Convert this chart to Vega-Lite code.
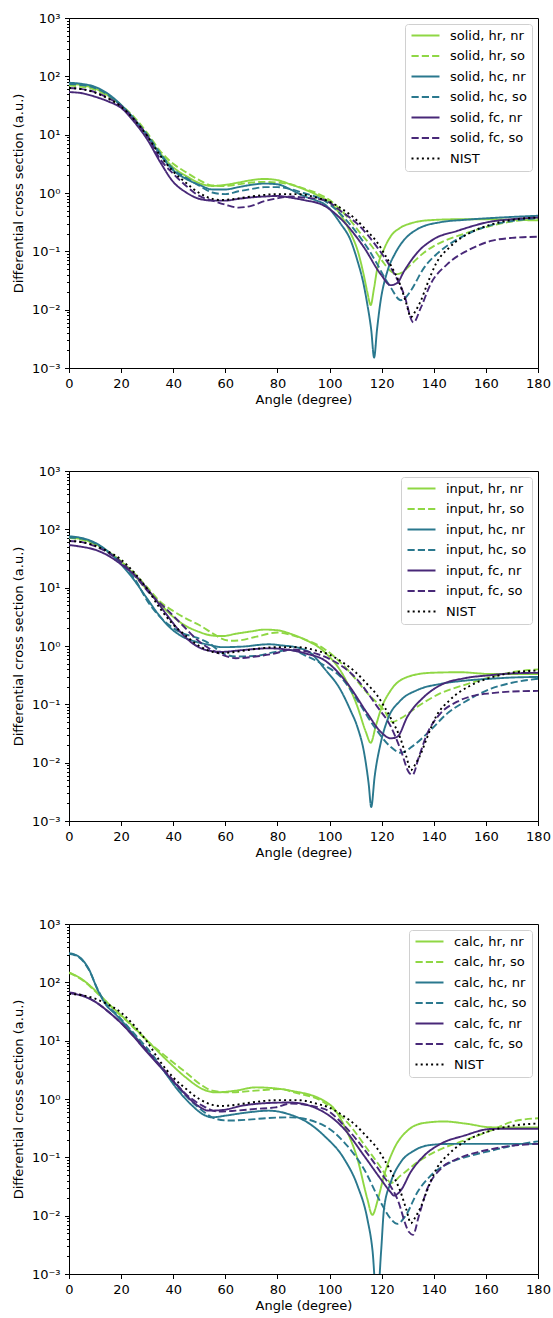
{
"$schema": "https://vega.github.io/schema/vega-lite/v6.json",
"padding": {"left": 11, "top": 11, "right": 14, "bottom": 5},
"spacing": 57,
"config": {
 "font": "DejaVu Sans",
 "view": {"stroke": "#000000", "strokeWidth": 1},
 "axis": {"grid": false, "domainColor": "#000000", "tickColor": "#000000", "labelColor": "#000000", "titleColor": "#000000", "labelFontSize": 13, "titleFontSize": 13, "titleFontWeight": "normal", "tickSize": 4.5, "labelPadding": 4.5, "domainWidth": 1, "tickWidth": 1, "labelFlush": false, "labelOverlap": false},
 "legend": {"orient": "top-right", "offset": 6, "symbolType": "M-1,0H4.6", "symbolSize": 100, "symbolStrokeWidth": 1.9, "labelFontSize": 13, "labelColor": "#000000", "strokeColor": "#d0d0d0", "fillColor": "rgba(255,255,255,0.8)", "padding": 5, "cornerRadius": 3, "rowPadding": 6.5, "labelOffset": 27}
},
"datasets": {
"solid": [
{"series":"solid, hr, nr","angle":0,"dcs":74.1},{"series":"solid, hr, nr","angle":5,"dcs":70.8},{"series":"solid, hr, nr","angle":10,"dcs":61.7},{"series":"solid, hr, nr","angle":15,"dcs":46.8},{"series":"solid, hr, nr","angle":20,"dcs":31.6},{"series":"solid, hr, nr","angle":25,"dcs":18.2},{"series":"solid, hr, nr","angle":30,"dcs":9.55},{"series":"solid, hr, nr","angle":35,"dcs":4.79},{"series":"solid, hr, nr","angle":40,"dcs":2.75},{"series":"solid, hr, nr","angle":45,"dcs":1.95},{"series":"solid, hr, nr","angle":50,"dcs":1.48},{"series":"solid, hr, nr","angle":55,"dcs":1.32},{"series":"solid, hr, nr","angle":60,"dcs":1.38},{"series":"solid, hr, nr","angle":65,"dcs":1.51},{"series":"solid, hr, nr","angle":70,"dcs":1.66},{"series":"solid, hr, nr","angle":75,"dcs":1.74},{"series":"solid, hr, nr","angle":80,"dcs":1.66},{"series":"solid, hr, nr","angle":85,"dcs":1.41},{"series":"solid, hr, nr","angle":90,"dcs":1.17},{"series":"solid, hr, nr","angle":95,"dcs":0.933},{"series":"solid, hr, nr","angle":100,"dcs":0.692},{"series":"solid, hr, nr","angle":104,"dcs":0.437},{"series":"solid, hr, nr","angle":108,"dcs":0.209},{"series":"solid, hr, nr","angle":111,"dcs":0.0955},{"series":"solid, hr, nr","angle":113,"dcs":0.0417},{"series":"solid, hr, nr","angle":114.5,"dcs":0.02},{"series":"solid, hr, nr","angle":115.8,"dcs":0.012},{"series":"solid, hr, nr","angle":117,"dcs":0.0224},{"series":"solid, hr, nr","angle":118.3,"dcs":0.0501},{"series":"solid, hr, nr","angle":121,"dcs":0.112},{"series":"solid, hr, nr","angle":123.5,"dcs":0.182},{"series":"solid, hr, nr","angle":127,"dcs":0.251},{"series":"solid, hr, nr","angle":132,"dcs":0.309},{"series":"solid, hr, nr","angle":139,"dcs":0.343},{"series":"solid, hr, nr","angle":150,"dcs":0.355},{"series":"solid, hr, nr","angle":162,"dcs":0.355},{"series":"solid, hr, nr","angle":170,"dcs":0.347},{"series":"solid, hr, nr","angle":180,"dcs":0.339},
{"series":"solid, hr, so","angle":0,"dcs":69.2},{"series":"solid, hr, so","angle":5,"dcs":66.1},{"series":"solid, hr, so","angle":10,"dcs":58.9},{"series":"solid, hr, so","angle":15,"dcs":45.7},{"series":"solid, hr, so","angle":20,"dcs":32.4},{"series":"solid, hr, so","angle":25,"dcs":20.0},{"series":"solid, hr, so","angle":30,"dcs":10.7},{"series":"solid, hr, so","angle":35,"dcs":5.25},{"series":"solid, hr, so","angle":40,"dcs":3.16},{"series":"solid, hr, so","angle":45,"dcs":2.26},{"series":"solid, hr, so","angle":50,"dcs":1.66},{"series":"solid, hr, so","angle":55,"dcs":1.35},{"series":"solid, hr, so","angle":60,"dcs":1.32},{"series":"solid, hr, so","angle":65,"dcs":1.41},{"series":"solid, hr, so","angle":70,"dcs":1.51},{"series":"solid, hr, so","angle":75,"dcs":1.55},{"series":"solid, hr, so","angle":80,"dcs":1.51},{"series":"solid, hr, so","angle":85,"dcs":1.41},{"series":"solid, hr, so","angle":90,"dcs":1.2},{"series":"solid, hr, so","angle":95,"dcs":1.0},{"series":"solid, hr, so","angle":100,"dcs":0.759},{"series":"solid, hr, so","angle":104,"dcs":0.525},{"series":"solid, hr, so","angle":108,"dcs":0.339},{"series":"solid, hr, so","angle":112,"dcs":0.2},{"series":"solid, hr, so","angle":116,"dcs":0.126},{"series":"solid, hr, so","angle":120,"dcs":0.0708},{"series":"solid, hr, so","angle":123,"dcs":0.0479},{"series":"solid, hr, so","angle":126,"dcs":0.0407},{"series":"solid, hr, so","angle":128,"dcs":0.0437},{"series":"solid, hr, so","angle":130,"dcs":0.0525},{"series":"solid, hr, so","angle":133,"dcs":0.0708},{"series":"solid, hr, so","angle":136.3,"dcs":0.0955},{"series":"solid, hr, so","angle":140,"dcs":0.123},{"series":"solid, hr, so","angle":144,"dcs":0.151},{"series":"solid, hr, so","angle":151.6,"dcs":0.2},{"series":"solid, hr, so","angle":162,"dcs":0.275},{"series":"solid, hr, so","angle":170,"dcs":0.324},{"series":"solid, hr, so","angle":180,"dcs":0.363},
{"series":"solid, hc, nr","angle":0,"dcs":77.6},{"series":"solid, hc, nr","angle":5,"dcs":74.1},{"series":"solid, hc, nr","angle":10,"dcs":66.1},{"series":"solid, hc, nr","angle":15,"dcs":50.1},{"series":"solid, hc, nr","angle":20,"dcs":32.4},{"series":"solid, hc, nr","angle":25,"dcs":18.6},{"series":"solid, hc, nr","angle":30,"dcs":9.55},{"series":"solid, hc, nr","angle":35,"dcs":4.57},{"series":"solid, hc, nr","angle":40,"dcs":2.45},{"series":"solid, hc, nr","angle":45,"dcs":1.74},{"series":"solid, hc, nr","angle":50,"dcs":1.38},{"series":"solid, hc, nr","angle":55,"dcs":1.15},{"series":"solid, hc, nr","angle":60,"dcs":1.15},{"series":"solid, hc, nr","angle":65,"dcs":1.26},{"series":"solid, hc, nr","angle":70,"dcs":1.38},{"series":"solid, hc, nr","angle":75,"dcs":1.45},{"series":"solid, hc, nr","angle":80,"dcs":1.41},{"series":"solid, hc, nr","angle":85,"dcs":1.15},{"series":"solid, hc, nr","angle":90,"dcs":0.891},{"series":"solid, hc, nr","angle":95,"dcs":0.741},{"series":"solid, hc, nr","angle":98,"dcs":0.646},{"series":"solid, hc, nr","angle":104.3,"dcs":0.295},{"series":"solid, hc, nr","angle":108,"dcs":0.158},{"series":"solid, hc, nr","angle":110.7,"dcs":0.0692},{"series":"solid, hc, nr","angle":113,"dcs":0.0282},{"series":"solid, hc, nr","angle":114.5,"dcs":0.0123},{"series":"solid, hc, nr","angle":116,"dcs":0.00447},{"series":"solid, hc, nr","angle":117.1,"dcs":0.00151},{"series":"solid, hc, nr","angle":118.2,"dcs":0.00447},{"series":"solid, hc, nr","angle":119.4,"dcs":0.0123},{"series":"solid, hc, nr","angle":122.2,"dcs":0.0457},{"series":"solid, hc, nr","angle":125,"dcs":0.0891},{"series":"solid, hc, nr","angle":127.3,"dcs":0.132},{"series":"solid, hc, nr","angle":133.7,"dcs":0.24},{"series":"solid, hc, nr","angle":142.6,"dcs":0.316},{"series":"solid, hc, nr","angle":152,"dcs":0.347},{"series":"solid, hc, nr","angle":162,"dcs":0.372},{"series":"solid, hc, nr","angle":170,"dcs":0.389},{"series":"solid, hc, nr","angle":180,"dcs":0.407},
{"series":"solid, hc, so","angle":0,"dcs":74.1},{"series":"solid, hc, so","angle":5,"dcs":70.8},{"series":"solid, hc, so","angle":10,"dcs":63.1},{"series":"solid, hc, so","angle":15,"dcs":47.9},{"series":"solid, hc, so","angle":20,"dcs":31.6},{"series":"solid, hc, so","angle":25,"dcs":18.6},{"series":"solid, hc, so","angle":30,"dcs":10.0},{"series":"solid, hc, so","angle":35,"dcs":4.79},{"series":"solid, hc, so","angle":40,"dcs":2.57},{"series":"solid, hc, so","angle":45,"dcs":1.82},{"series":"solid, hc, so","angle":50,"dcs":1.33},{"series":"solid, hc, so","angle":55,"dcs":1.02},{"series":"solid, hc, so","angle":60,"dcs":0.955},{"series":"solid, hc, so","angle":65,"dcs":1.07},{"series":"solid, hc, so","angle":70,"dcs":1.17},{"series":"solid, hc, so","angle":75,"dcs":1.26},{"series":"solid, hc, so","angle":80,"dcs":1.26},{"series":"solid, hc, so","angle":85,"dcs":1.17},{"series":"solid, hc, so","angle":90,"dcs":1.0},{"series":"solid, hc, so","angle":98,"dcs":0.741},{"series":"solid, hc, so","angle":104,"dcs":0.447},{"series":"solid, hc, so","angle":110.7,"dcs":0.2},{"series":"solid, hc, so","angle":115,"dcs":0.107},{"series":"solid, hc, so","angle":118.3,"dcs":0.0603},{"series":"solid, hc, so","angle":121,"dcs":0.0363},{"series":"solid, hc, so","angle":123.5,"dcs":0.024},{"series":"solid, hc, so","angle":127.3,"dcs":0.0145},{"series":"solid, hc, so","angle":129,"dcs":0.0158},{"series":"solid, hc, so","angle":131.1,"dcs":0.0209},{"series":"solid, hc, so","angle":136.3,"dcs":0.0525},{"series":"solid, hc, so","angle":142.6,"dcs":0.102},{"series":"solid, hc, so","angle":151.6,"dcs":0.186},{"series":"solid, hc, so","angle":162,"dcs":0.282},{"series":"solid, hc, so","angle":170,"dcs":0.331},{"series":"solid, hc, so","angle":180,"dcs":0.372},
{"series":"solid, fc, nr","angle":0,"dcs":53.7},{"series":"solid, fc, nr","angle":5,"dcs":51.3},{"series":"solid, fc, nr","angle":10,"dcs":44.7},{"series":"solid, fc, nr","angle":15,"dcs":37.2},{"series":"solid, fc, nr","angle":20,"dcs":28.8},{"series":"solid, fc, nr","angle":25,"dcs":16.6},{"series":"solid, fc, nr","angle":30,"dcs":8.32},{"series":"solid, fc, nr","angle":35,"dcs":3.39},{"series":"solid, fc, nr","angle":40,"dcs":1.55},{"series":"solid, fc, nr","angle":45,"dcs":1.02},{"series":"solid, fc, nr","angle":50,"dcs":0.794},{"series":"solid, fc, nr","angle":55,"dcs":0.741},{"series":"solid, fc, nr","angle":60,"dcs":0.741},{"series":"solid, fc, nr","angle":65,"dcs":0.794},{"series":"solid, fc, nr","angle":70,"dcs":0.841},{"series":"solid, fc, nr","angle":75,"dcs":0.871},{"series":"solid, fc, nr","angle":80,"dcs":0.891},{"series":"solid, fc, nr","angle":85,"dcs":0.832},{"series":"solid, fc, nr","angle":90,"dcs":0.759},{"series":"solid, fc, nr","angle":98,"dcs":0.603},{"series":"solid, fc, nr","angle":105.6,"dcs":0.316},{"series":"solid, fc, nr","angle":113.2,"dcs":0.117},{"series":"solid, fc, nr","angle":119.6,"dcs":0.0407},{"series":"solid, fc, nr","angle":123.5,"dcs":0.0263},{"series":"solid, fc, nr","angle":126,"dcs":0.0288},{"series":"solid, fc, nr","angle":128.6,"dcs":0.0457},{"series":"solid, fc, nr","angle":133.7,"dcs":0.0955},{"series":"solid, fc, nr","angle":140,"dcs":0.162},{"series":"solid, fc, nr","angle":149,"dcs":0.224},{"series":"solid, fc, nr","angle":162,"dcs":0.324},{"series":"solid, fc, nr","angle":170,"dcs":0.355},{"series":"solid, fc, nr","angle":180,"dcs":0.38},
{"series":"solid, fc, so","angle":0,"dcs":63.1},{"series":"solid, fc, so","angle":5,"dcs":60.3},{"series":"solid, fc, so","angle":10,"dcs":53.7},{"series":"solid, fc, so","angle":15,"dcs":42.7},{"series":"solid, fc, so","angle":20,"dcs":30.9},{"series":"solid, fc, so","angle":25,"dcs":18.2},{"series":"solid, fc, so","angle":30,"dcs":9.55},{"series":"solid, fc, so","angle":35,"dcs":3.8},{"series":"solid, fc, so","angle":40,"dcs":2.14},{"series":"solid, fc, so","angle":45,"dcs":1.32},{"series":"solid, fc, so","angle":50,"dcs":0.891},{"series":"solid, fc, so","angle":55,"dcs":0.741},{"series":"solid, fc, so","angle":60,"dcs":0.631},{"series":"solid, fc, so","angle":65,"dcs":0.562},{"series":"solid, fc, so","angle":70,"dcs":0.603},{"series":"solid, fc, so","angle":75,"dcs":0.724},{"series":"solid, fc, so","angle":80,"dcs":0.813},{"series":"solid, fc, so","angle":85,"dcs":0.871},{"series":"solid, fc, so","angle":90,"dcs":0.832},{"series":"solid, fc, so","angle":98,"dcs":0.759},{"series":"solid, fc, so","angle":104,"dcs":0.501},{"series":"solid, fc, so","angle":110.7,"dcs":0.295},{"series":"solid, fc, so","angle":118.3,"dcs":0.117},{"series":"solid, fc, so","angle":123.5,"dcs":0.0525},{"series":"solid, fc, so","angle":128.6,"dcs":0.0182},{"series":"solid, fc, so","angle":132.2,"dcs":0.00603},{"series":"solid, fc, so","angle":135,"dcs":0.0107},{"series":"solid, fc, so","angle":138.8,"dcs":0.0275},{"series":"solid, fc, so","angle":145.2,"dcs":0.0603},{"series":"solid, fc, so","angle":154.2,"dcs":0.11},{"series":"solid, fc, so","angle":162,"dcs":0.151},{"series":"solid, fc, so","angle":170,"dcs":0.17},{"series":"solid, fc, so","angle":180,"dcs":0.178},
{"series":"NIST","angle":0,"dcs":63.1},{"series":"NIST","angle":5,"dcs":60.3},{"series":"NIST","angle":10,"dcs":52.5},{"series":"NIST","angle":15,"dcs":41.7},{"series":"NIST","angle":20,"dcs":30.2},{"series":"NIST","angle":25,"dcs":18.2},{"series":"NIST","angle":30,"dcs":9.55},{"series":"NIST","angle":35,"dcs":4.37},{"series":"NIST","angle":40,"dcs":2.34},{"series":"NIST","angle":45,"dcs":1.48},{"series":"NIST","angle":50,"dcs":1.0},{"series":"NIST","angle":55,"dcs":0.794},{"series":"NIST","angle":58,"dcs":0.759},{"series":"NIST","angle":62,"dcs":0.776},{"series":"NIST","angle":70,"dcs":0.871},{"series":"NIST","angle":80,"dcs":0.955},{"series":"NIST","angle":88,"dcs":0.955},{"series":"NIST","angle":95,"dcs":0.832},{"series":"NIST","angle":100,"dcs":0.708},{"series":"NIST","angle":105,"dcs":0.525},{"series":"NIST","angle":110,"dcs":0.355},{"series":"NIST","angle":115,"dcs":0.209},{"series":"NIST","angle":118,"dcs":0.148},{"series":"NIST","angle":121,"dcs":0.0912},{"series":"NIST","angle":124,"dcs":0.0525},{"series":"NIST","angle":127,"dcs":0.0275},{"series":"NIST","angle":129.5,"dcs":0.0126},{"series":"NIST","angle":131.2,"dcs":0.00741},{"series":"NIST","angle":133,"dcs":0.00955},{"series":"NIST","angle":135,"dcs":0.0141},{"series":"NIST","angle":137.5,"dcs":0.0275},{"series":"NIST","angle":141,"dcs":0.0631},{"series":"NIST","angle":146,"dcs":0.117},{"series":"NIST","angle":154,"dcs":0.209},{"series":"NIST","angle":162,"dcs":0.288},{"series":"NIST","angle":170,"dcs":0.347},{"series":"NIST","angle":180,"dcs":0.38}
],
"input": [
{"series":"input, hr, nr","angle":0,"dcs":72.4},{"series":"input, hr, nr","angle":5,"dcs":67.6},{"series":"input, hr, nr","angle":10,"dcs":56.2},{"series":"input, hr, nr","angle":15,"dcs":41.7},{"series":"input, hr, nr","angle":20,"dcs":28.2},{"series":"input, hr, nr","angle":25,"dcs":16.6},{"series":"input, hr, nr","angle":30,"dcs":9.12},{"series":"input, hr, nr","angle":35,"dcs":5.25},{"series":"input, hr, nr","angle":40,"dcs":3.16},{"series":"input, hr, nr","angle":45,"dcs":2.19},{"series":"input, hr, nr","angle":50,"dcs":1.74},{"series":"input, hr, nr","angle":55,"dcs":1.51},{"series":"input, hr, nr","angle":59,"dcs":1.48},{"series":"input, hr, nr","angle":64,"dcs":1.62},{"series":"input, hr, nr","angle":70,"dcs":1.78},{"series":"input, hr, nr","angle":75,"dcs":1.91},{"series":"input, hr, nr","angle":80,"dcs":1.86},{"series":"input, hr, nr","angle":85,"dcs":1.62},{"series":"input, hr, nr","angle":90,"dcs":1.32},{"series":"input, hr, nr","angle":98,"dcs":0.794},{"series":"input, hr, nr","angle":105.6,"dcs":0.295},{"series":"input, hr, nr","angle":110.7,"dcs":0.0912},{"series":"input, hr, nr","angle":113.9,"dcs":0.0339},{"series":"input, hr, nr","angle":115.8,"dcs":0.0219},{"series":"input, hr, nr","angle":117.7,"dcs":0.0417},{"series":"input, hr, nr","angle":119.6,"dcs":0.0794},{"series":"input, hr, nr","angle":123.5,"dcs":0.174},{"series":"input, hr, nr","angle":129.9,"dcs":0.295},{"series":"input, hr, nr","angle":138.8,"dcs":0.347},{"series":"input, hr, nr","angle":150,"dcs":0.355},{"series":"input, hr, nr","angle":162,"dcs":0.331},{"series":"input, hr, nr","angle":170,"dcs":0.331},{"series":"input, hr, nr","angle":180,"dcs":0.331},
{"series":"input, hr, so","angle":0,"dcs":70.8},{"series":"input, hr, so","angle":5,"dcs":66.1},{"series":"input, hr, so","angle":10,"dcs":55.0},{"series":"input, hr, so","angle":15,"dcs":40.7},{"series":"input, hr, so","angle":20,"dcs":28.2},{"series":"input, hr, so","angle":25,"dcs":17.8},{"series":"input, hr, so","angle":30,"dcs":10.2},{"series":"input, hr, so","angle":35,"dcs":5.75},{"series":"input, hr, so","angle":40,"dcs":3.98},{"series":"input, hr, so","angle":45,"dcs":2.95},{"series":"input, hr, so","angle":50,"dcs":2.29},{"series":"input, hr, so","angle":55,"dcs":1.66},{"series":"input, hr, so","angle":58,"dcs":1.38},{"series":"input, hr, so","angle":62,"dcs":1.23},{"series":"input, hr, so","angle":66,"dcs":1.26},{"series":"input, hr, so","angle":72,"dcs":1.45},{"series":"input, hr, so","angle":80,"dcs":1.7},{"series":"input, hr, so","angle":85,"dcs":1.55},{"series":"input, hr, so","angle":90,"dcs":1.32},{"series":"input, hr, so","angle":98,"dcs":0.891},{"series":"input, hr, so","angle":107,"dcs":0.389},{"series":"input, hr, so","angle":114.5,"dcs":0.155},{"series":"input, hr, so","angle":120.9,"dcs":0.0794},{"series":"input, hr, so","angle":124.1,"dcs":0.0501},{"series":"input, hr, so","angle":127.3,"dcs":0.0575},{"series":"input, hr, so","angle":133.7,"dcs":0.0912},{"series":"input, hr, so","angle":142.6,"dcs":0.155},{"series":"input, hr, so","angle":151.6,"dcs":0.214},{"series":"input, hr, so","angle":162,"dcs":0.295},{"series":"input, hr, so","angle":170,"dcs":0.355},{"series":"input, hr, so","angle":180,"dcs":0.398},
{"series":"input, hc, nr","angle":0,"dcs":75.9},{"series":"input, hc, nr","angle":5,"dcs":70.8},{"series":"input, hc, nr","angle":10,"dcs":58.9},{"series":"input, hc, nr","angle":15,"dcs":41.7},{"series":"input, hc, nr","angle":20,"dcs":25.1},{"series":"input, hc, nr","angle":25,"dcs":13.5},{"series":"input, hc, nr","angle":29.4,"dcs":7.08},{"series":"input, hc, nr","angle":34,"dcs":3.63},{"series":"input, hc, nr","angle":38.4,"dcs":2.14},{"series":"input, hc, nr","angle":43.5,"dcs":1.45},{"series":"input, hc, nr","angle":48.6,"dcs":1.19},{"series":"input, hc, nr","angle":53.7,"dcs":1.05},{"series":"input, hc, nr","angle":58.8,"dcs":0.955},{"series":"input, hc, nr","angle":66.5,"dcs":0.977},{"series":"input, hc, nr","angle":76.7,"dcs":1.07},{"series":"input, hc, nr","angle":82,"dcs":1.02},{"series":"input, hc, nr","angle":88,"dcs":0.933},{"series":"input, hc, nr","angle":93,"dcs":0.741},{"series":"input, hc, nr","angle":97.9,"dcs":0.417},{"series":"input, hc, nr","angle":104.3,"dcs":0.174},{"series":"input, hc, nr","angle":108,"dcs":0.0794},{"series":"input, hc, nr","angle":110.7,"dcs":0.0407},{"series":"input, hc, nr","angle":113.3,"dcs":0.0145},{"series":"input, hc, nr","angle":115,"dcs":0.00437},{"series":"input, hc, nr","angle":116,"dcs":0.00174},{"series":"input, hc, nr","angle":117.3,"dcs":0.00575},{"series":"input, hc, nr","angle":119.6,"dcs":0.0214},{"series":"input, hc, nr","angle":122.2,"dcs":0.0537},{"series":"input, hc, nr","angle":127.3,"dcs":0.117},{"series":"input, hc, nr","angle":133.7,"dcs":0.176},{"series":"input, hc, nr","angle":142.6,"dcs":0.224},{"series":"input, hc, nr","angle":151.6,"dcs":0.254},{"series":"input, hc, nr","angle":162,"dcs":0.275},{"series":"input, hc, nr","angle":170,"dcs":0.288},{"series":"input, hc, nr","angle":180,"dcs":0.295},
{"series":"input, hc, so","angle":0,"dcs":72.4},{"series":"input, hc, so","angle":5,"dcs":69.2},{"series":"input, hc, so","angle":10,"dcs":57.5},{"series":"input, hc, so","angle":15,"dcs":40.7},{"series":"input, hc, so","angle":20,"dcs":26.3},{"series":"input, hc, so","angle":25,"dcs":14.5},{"series":"input, hc, so","angle":30.7,"dcs":5.37},{"series":"input, hc, so","angle":38.4,"dcs":2.29},{"series":"input, hc, so","angle":43.5,"dcs":1.66},{"series":"input, hc, so","angle":48.6,"dcs":1.41},{"series":"input, hc, so","angle":53.7,"dcs":1.12},{"series":"input, hc, so","angle":58.8,"dcs":0.759},{"series":"input, hc, so","angle":64,"dcs":0.661},{"series":"input, hc, so","angle":71.6,"dcs":0.676},{"series":"input, hc, so","angle":79.3,"dcs":0.794},{"series":"input, hc, so","angle":85,"dcs":0.851},{"series":"input, hc, so","angle":91.5,"dcs":0.661},{"series":"input, hc, so","angle":97.9,"dcs":0.468},{"series":"input, hc, so","angle":104.3,"dcs":0.295},{"series":"input, hc, so","angle":110.7,"dcs":0.117},{"series":"input, hc, so","angle":117.1,"dcs":0.0417},{"series":"input, hc, so","angle":123.5,"dcs":0.0186},{"series":"input, hc, so","angle":127.3,"dcs":0.0148},{"series":"input, hc, so","angle":132.4,"dcs":0.02},{"series":"input, hc, so","angle":138.8,"dcs":0.0363},{"series":"input, hc, so","angle":145.2,"dcs":0.07},{"series":"input, hc, so","angle":152.9,"dcs":0.117},{"series":"input, hc, so","angle":162,"dcs":0.186},{"series":"input, hc, so","angle":170,"dcs":0.234},{"series":"input, hc, so","angle":180,"dcs":0.275},
{"series":"input, fc, nr","angle":0,"dcs":53.7},{"series":"input, fc, nr","angle":5,"dcs":50.1},{"series":"input, fc, nr","angle":10,"dcs":44.7},{"series":"input, fc, nr","angle":15,"dcs":35.5},{"series":"input, fc, nr","angle":20,"dcs":25.1},{"series":"input, fc, nr","angle":25.6,"dcs":15.8},{"series":"input, fc, nr","angle":32,"dcs":7.41},{"series":"input, fc, nr","angle":37.1,"dcs":3.63},{"series":"input, fc, nr","angle":42.2,"dcs":1.86},{"series":"input, fc, nr","angle":47.3,"dcs":1.12},{"series":"input, fc, nr","angle":53.7,"dcs":0.832},{"series":"input, fc, nr","angle":58.8,"dcs":0.794},{"series":"input, fc, nr","angle":66.5,"dcs":0.851},{"series":"input, fc, nr","angle":76.7,"dcs":0.912},{"series":"input, fc, nr","angle":85,"dcs":0.851},{"series":"input, fc, nr","angle":91,"dcs":0.741},{"series":"input, fc, nr","angle":97.9,"dcs":0.575},{"series":"input, fc, nr","angle":106.8,"dcs":0.229},{"series":"input, fc, nr","angle":114.5,"dcs":0.07},{"series":"input, fc, nr","angle":119.6,"dcs":0.0339},{"series":"input, fc, nr","angle":123.5,"dcs":0.0261},{"series":"input, fc, nr","angle":126,"dcs":0.0278},{"series":"input, fc, nr","angle":129.9,"dcs":0.0617},{"series":"input, fc, nr","angle":136.3,"dcs":0.135},{"series":"input, fc, nr","angle":142.6,"dcs":0.214},{"series":"input, fc, nr","angle":151.6,"dcs":0.279},{"series":"input, fc, nr","angle":161.8,"dcs":0.316},{"series":"input, fc, nr","angle":170,"dcs":0.339},{"series":"input, fc, nr","angle":180,"dcs":0.347},
{"series":"input, fc, so","angle":0,"dcs":63.1},{"series":"input, fc, so","angle":5,"dcs":60.3},{"series":"input, fc, so","angle":10,"dcs":51.3},{"series":"input, fc, so","angle":15,"dcs":39.8},{"series":"input, fc, so","angle":20,"dcs":27.5},{"series":"input, fc, so","angle":25,"dcs":16.6},{"series":"input, fc, so","angle":30,"dcs":8.91},{"series":"input, fc, so","angle":38.4,"dcs":3.89},{"series":"input, fc, so","angle":43.5,"dcs":2.29},{"series":"input, fc, so","angle":48.6,"dcs":1.35},{"series":"input, fc, so","angle":53.7,"dcs":0.912},{"series":"input, fc, so","angle":58.8,"dcs":0.708},{"series":"input, fc, so","angle":64,"dcs":0.617},{"series":"input, fc, so","angle":71.6,"dcs":0.661},{"series":"input, fc, so","angle":79.3,"dcs":0.75},{"series":"input, fc, so","angle":85,"dcs":0.871},{"series":"input, fc, so","angle":91,"dcs":0.813},{"series":"input, fc, so","angle":97.9,"dcs":0.661},{"series":"input, fc, so","angle":110.7,"dcs":0.263},{"series":"input, fc, so","angle":118.3,"dcs":0.0912},{"series":"input, fc, so","angle":123.5,"dcs":0.0417},{"series":"input, fc, so","angle":127.3,"dcs":0.0166},{"series":"input, fc, so","angle":130.5,"dcs":0.00676},{"series":"input, fc, so","angle":131.8,"dcs":0.00617},{"series":"input, fc, so","angle":134.3,"dcs":0.0126},{"series":"input, fc, so","angle":137.5,"dcs":0.0316},{"series":"input, fc, so","angle":142.6,"dcs":0.07},{"series":"input, fc, so","angle":149,"dcs":0.111},{"series":"input, fc, so","angle":156.7,"dcs":0.145},{"series":"input, fc, so","angle":162,"dcs":0.155},{"series":"input, fc, so","angle":170,"dcs":0.166},{"series":"input, fc, so","angle":180,"dcs":0.17},
{"series":"NIST","angle":0,"dcs":63.1},{"series":"NIST","angle":5,"dcs":60.3},{"series":"NIST","angle":10,"dcs":52.5},{"series":"NIST","angle":15,"dcs":41.7},{"series":"NIST","angle":20,"dcs":30.2},{"series":"NIST","angle":25,"dcs":18.2},{"series":"NIST","angle":30,"dcs":9.55},{"series":"NIST","angle":35,"dcs":4.37},{"series":"NIST","angle":40,"dcs":2.34},{"series":"NIST","angle":45,"dcs":1.48},{"series":"NIST","angle":50,"dcs":1.0},{"series":"NIST","angle":55,"dcs":0.794},{"series":"NIST","angle":58,"dcs":0.759},{"series":"NIST","angle":62,"dcs":0.776},{"series":"NIST","angle":70,"dcs":0.871},{"series":"NIST","angle":80,"dcs":0.955},{"series":"NIST","angle":88,"dcs":0.955},{"series":"NIST","angle":95,"dcs":0.832},{"series":"NIST","angle":100,"dcs":0.708},{"series":"NIST","angle":105,"dcs":0.525},{"series":"NIST","angle":110,"dcs":0.355},{"series":"NIST","angle":115,"dcs":0.209},{"series":"NIST","angle":118,"dcs":0.148},{"series":"NIST","angle":121,"dcs":0.0912},{"series":"NIST","angle":124,"dcs":0.0525},{"series":"NIST","angle":127,"dcs":0.0275},{"series":"NIST","angle":129.5,"dcs":0.0126},{"series":"NIST","angle":131.2,"dcs":0.00741},{"series":"NIST","angle":133,"dcs":0.00955},{"series":"NIST","angle":135,"dcs":0.0141},{"series":"NIST","angle":137.5,"dcs":0.0275},{"series":"NIST","angle":141,"dcs":0.0631},{"series":"NIST","angle":146,"dcs":0.117},{"series":"NIST","angle":154,"dcs":0.209},{"series":"NIST","angle":162,"dcs":0.288},{"series":"NIST","angle":170,"dcs":0.347},{"series":"NIST","angle":180,"dcs":0.38}
],
"calc": [
{"series":"calc, hr, nr","angle":0,"dcs":148},{"series":"calc, hr, nr","angle":5.1,"dcs":112},{"series":"calc, hr, nr","angle":10.2,"dcs":71.6},{"series":"calc, hr, nr","angle":15.3,"dcs":42.4},{"series":"calc, hr, nr","angle":23,"dcs":20.6},{"series":"calc, hr, nr","angle":30.7,"dcs":9.33},{"series":"calc, hr, nr","angle":38.4,"dcs":4.25},{"series":"calc, hr, nr","angle":44.8,"dcs":2.35},{"series":"calc, hr, nr","angle":51.2,"dcs":1.48},{"series":"calc, hr, nr","angle":56.3,"dcs":1.3},{"series":"calc, hr, nr","angle":63.9,"dcs":1.39},{"series":"calc, hr, nr","angle":71.6,"dcs":1.58},{"series":"calc, hr, nr","angle":79.3,"dcs":1.52},{"series":"calc, hr, nr","angle":85,"dcs":1.39},{"series":"calc, hr, nr","angle":97.9,"dcs":0.93},{"series":"calc, hr, nr","angle":102,"dcs":0.66},{"series":"calc, hr, nr","angle":105.6,"dcs":0.35},{"series":"calc, hr, nr","angle":110.7,"dcs":0.094},{"series":"calc, hr, nr","angle":114.5,"dcs":0.0194},{"series":"calc, hr, nr","angle":116.4,"dcs":0.0103},{"series":"calc, hr, nr","angle":118.6,"dcs":0.0194},{"series":"calc, hr, nr","angle":120.9,"dcs":0.0486},{"series":"calc, hr, nr","angle":124.7,"dcs":0.139},{"series":"calc, hr, nr","angle":129.9,"dcs":0.287},{"series":"calc, hr, nr","angle":136.3,"dcs":0.389},{"series":"calc, hr, nr","angle":144,"dcs":0.412},{"series":"calc, hr, nr","angle":152,"dcs":0.38},{"series":"calc, hr, nr","angle":162,"dcs":0.327},{"series":"calc, hr, nr","angle":170,"dcs":0.324},{"series":"calc, hr, nr","angle":180,"dcs":0.324},
{"series":"calc, hr, so","angle":0,"dcs":145},{"series":"calc, hr, so","angle":5.1,"dcs":110},{"series":"calc, hr, so","angle":10.2,"dcs":69.2},{"series":"calc, hr, so","angle":15.3,"dcs":41.7},{"series":"calc, hr, so","angle":23,"dcs":20.0},{"series":"calc, hr, so","angle":30.7,"dcs":9.33},{"series":"calc, hr, so","angle":38.4,"dcs":4.84},{"series":"calc, hr, so","angle":44.8,"dcs":2.86},{"series":"calc, hr, so","angle":51.2,"dcs":1.69},{"series":"calc, hr, so","angle":55,"dcs":1.39},{"series":"calc, hr, so","angle":61.4,"dcs":1.3},{"series":"calc, hr, so","angle":71.6,"dcs":1.39},{"series":"calc, hr, so","angle":81.8,"dcs":1.48},{"series":"calc, hr, so","angle":85,"dcs":1.35},{"series":"calc, hr, so","angle":97.9,"dcs":0.871},{"series":"calc, hr, so","angle":106.8,"dcs":0.398},{"series":"calc, hr, so","angle":114.5,"dcs":0.139},{"series":"calc, hr, so","angle":120.9,"dcs":0.0555},{"series":"calc, hr, so","angle":123.5,"dcs":0.0363},{"series":"calc, hr, so","angle":127.3,"dcs":0.0486},{"series":"calc, hr, so","angle":133.7,"dcs":0.0824},{"series":"calc, hr, so","angle":141.4,"dcs":0.13},{"series":"calc, hr, so","angle":151.6,"dcs":0.194},{"series":"calc, hr, so","angle":161.8,"dcs":0.287},{"series":"calc, hr, so","angle":170,"dcs":0.407},{"series":"calc, hr, so","angle":180,"dcs":0.468},
{"series":"calc, hc, nr","angle":0,"dcs":316},{"series":"calc, hc, nr","angle":3.8,"dcs":275},{"series":"calc, hc, nr","angle":7.7,"dcs":166},{"series":"calc, hc, nr","angle":10.9,"dcs":75.9},{"series":"calc, hc, nr","angle":14.1,"dcs":41.7},{"series":"calc, hc, nr","angle":17.9,"dcs":28.2},{"series":"calc, hc, nr","angle":23,"dcs":15.8},{"series":"calc, hc, nr","angle":29.4,"dcs":7.18},{"series":"calc, hc, nr","angle":35.8,"dcs":3.27},{"series":"calc, hc, nr","angle":42.2,"dcs":1.35},{"series":"calc, hc, nr","angle":47.3,"dcs":0.769},{"series":"calc, hc, nr","angle":51.2,"dcs":0.553},{"series":"calc, hc, nr","angle":55,"dcs":0.485},{"series":"calc, hc, nr","angle":60.1,"dcs":0.519},{"series":"calc, hc, nr","angle":69,"dcs":0.592},{"series":"calc, hc, nr","angle":76.7,"dcs":0.631},{"series":"calc, hc, nr","angle":85,"dcs":0.537},{"series":"calc, hc, nr","angle":91.5,"dcs":0.398},{"series":"calc, hc, nr","angle":97.9,"dcs":0.235},{"series":"calc, hc, nr","angle":105.6,"dcs":0.094},{"series":"calc, hc, nr","angle":110.7,"dcs":0.0328},{"series":"calc, hc, nr","angle":114.5,"dcs":0.00881},{"series":"calc, hc, nr","angle":116.5,"dcs":0.0025},{"series":"calc, hc, nr","angle":118.2,"dcs":0.0003},{"series":"calc, hc, nr","angle":119.8,"dcs":0.0025},{"series":"calc, hc, nr","angle":120.9,"dcs":0.0131},{"series":"calc, hc, nr","angle":123.5,"dcs":0.0374},{"series":"calc, hc, nr","angle":127.3,"dcs":0.0824},{"series":"calc, hc, nr","angle":132.4,"dcs":0.13},{"series":"calc, hc, nr","angle":138.8,"dcs":0.163},{"series":"calc, hc, nr","angle":146.5,"dcs":0.17},{"series":"calc, hc, nr","angle":162,"dcs":0.17},{"series":"calc, hc, nr","angle":180,"dcs":0.17},
{"series":"calc, hc, so","angle":0,"dcs":309},{"series":"calc, hc, so","angle":3.8,"dcs":270},{"series":"calc, hc, so","angle":7.7,"dcs":162},{"series":"calc, hc, so","angle":10.9,"dcs":77.6},{"series":"calc, hc, so","angle":14.1,"dcs":43.7},{"series":"calc, hc, so","angle":17.9,"dcs":29.5},{"series":"calc, hc, so","angle":23,"dcs":16.6},{"series":"calc, hc, so","angle":32,"dcs":5.75},{"series":"calc, hc, so","angle":38.4,"dcs":2.34},{"series":"calc, hc, so","angle":44.8,"dcs":1.14},{"series":"calc, hc, so","angle":51.2,"dcs":0.631},{"series":"calc, hc, so","angle":56.3,"dcs":0.457},{"series":"calc, hc, so","angle":61.4,"dcs":0.427},{"series":"calc, hc, so","angle":69,"dcs":0.443},{"series":"calc, hc, so","angle":76.7,"dcs":0.473},{"series":"calc, hc, so","angle":85,"dcs":0.485},{"series":"calc, hc, so","angle":97.9,"dcs":0.35},{"series":"calc, hc, so","angle":105.6,"dcs":0.181},{"series":"calc, hc, so","angle":113.2,"dcs":0.0631},{"series":"calc, hc, so","angle":119.6,"dcs":0.017},{"series":"calc, hc, so","angle":123.5,"dcs":0.00881},{"series":"calc, hc, so","angle":126,"dcs":0.00724},{"series":"calc, hc, so","angle":129.2,"dcs":0.01},{"series":"calc, hc, so","angle":133.7,"dcs":0.0251},{"series":"calc, hc, so","angle":138.8,"dcs":0.0486},{"series":"calc, hc, so","angle":146.5,"dcs":0.0824},{"series":"calc, hc, so","angle":154.2,"dcs":0.107},{"series":"calc, hc, so","angle":162,"dcs":0.13},{"series":"calc, hc, so","angle":170,"dcs":0.158},{"series":"calc, hc, so","angle":180,"dcs":0.188},
{"series":"calc, fc, nr","angle":0,"dcs":65.3},{"series":"calc, fc, nr","angle":5,"dcs":58.9},{"series":"calc, fc, nr","angle":10,"dcs":46.5},{"series":"calc, fc, nr","angle":15,"dcs":31.6},{"series":"calc, fc, nr","angle":20,"dcs":20.0},{"series":"calc, fc, nr","angle":25,"dcs":11.5},{"series":"calc, fc, nr","angle":29.4,"dcs":6.76},{"series":"calc, fc, nr","angle":35.8,"dcs":3.27},{"series":"calc, fc, nr","angle":42.2,"dcs":1.58},{"series":"calc, fc, nr","angle":48.6,"dcs":0.82},{"series":"calc, fc, nr","angle":53.7,"dcs":0.631},{"series":"calc, fc, nr","angle":58.8,"dcs":0.646},{"series":"calc, fc, nr","angle":66.5,"dcs":0.769},{"series":"calc, fc, nr","angle":76.7,"dcs":0.855},{"series":"calc, fc, nr","angle":85,"dcs":0.871},{"series":"calc, fc, nr","angle":97.9,"dcs":0.592},{"series":"calc, fc, nr","angle":105.6,"dcs":0.306},{"series":"calc, fc, nr","angle":113.2,"dcs":0.107},{"series":"calc, fc, nr","angle":119.6,"dcs":0.0427},{"series":"calc, fc, nr","angle":123.5,"dcs":0.0251},{"series":"calc, fc, nr","angle":124.7,"dcs":0.0221},{"series":"calc, fc, nr","angle":127.3,"dcs":0.0269},{"series":"calc, fc, nr","angle":131.1,"dcs":0.0555},{"series":"calc, fc, nr","angle":136.3,"dcs":0.107},{"series":"calc, fc, nr","angle":142.6,"dcs":0.17},{"series":"calc, fc, nr","angle":151.6,"dcs":0.235},{"series":"calc, fc, nr","angle":161.8,"dcs":0.306},{"series":"calc, fc, nr","angle":170,"dcs":0.309},{"series":"calc, fc, nr","angle":180,"dcs":0.309},
{"series":"calc, fc, so","angle":0,"dcs":67.0},{"series":"calc, fc, so","angle":5,"dcs":60.3},{"series":"calc, fc, so","angle":10,"dcs":46.8},{"series":"calc, fc, so","angle":15,"dcs":31.6},{"series":"calc, fc, so","angle":20,"dcs":20.0},{"series":"calc, fc, so","angle":25,"dcs":11.7},{"series":"calc, fc, so","angle":29.4,"dcs":7.24},{"series":"calc, fc, so","angle":38.4,"dcs":2.51},{"series":"calc, fc, so","angle":44.8,"dcs":1.22},{"series":"calc, fc, so","angle":51.2,"dcs":0.769},{"series":"calc, fc, so","angle":57.5,"dcs":0.607},{"series":"calc, fc, so","angle":64,"dcs":0.631},{"series":"calc, fc, so","angle":71.6,"dcs":0.676},{"series":"calc, fc, so","angle":79.3,"dcs":0.719},{"series":"calc, fc, so","angle":85,"dcs":0.832},{"series":"calc, fc, so","angle":97.9,"dcs":0.676},{"series":"calc, fc, so","angle":105.6,"dcs":0.35},{"series":"calc, fc, so","angle":113.2,"dcs":0.139},{"series":"calc, fc, so","angle":119.6,"dcs":0.0555},{"series":"calc, fc, so","angle":126,"dcs":0.0194},{"series":"calc, fc, so","angle":130.5,"dcs":0.00525},{"series":"calc, fc, so","angle":132,"dcs":0.00468},{"series":"calc, fc, so","angle":134.3,"dcs":0.01},{"series":"calc, fc, so","angle":137.5,"dcs":0.0288},{"series":"calc, fc, so","angle":142.6,"dcs":0.0631},{"series":"calc, fc, so","angle":149,"dcs":0.094},{"series":"calc, fc, so","angle":156.7,"dcs":0.122},{"series":"calc, fc, so","angle":162,"dcs":0.138},{"series":"calc, fc, so","angle":170,"dcs":0.158},{"series":"calc, fc, so","angle":180,"dcs":0.17},
{"series":"NIST","angle":0,"dcs":63.1},{"series":"NIST","angle":5,"dcs":60.3},{"series":"NIST","angle":10,"dcs":52.5},{"series":"NIST","angle":15,"dcs":41.7},{"series":"NIST","angle":20,"dcs":30.2},{"series":"NIST","angle":25,"dcs":18.2},{"series":"NIST","angle":30,"dcs":9.55},{"series":"NIST","angle":35,"dcs":4.37},{"series":"NIST","angle":40,"dcs":2.34},{"series":"NIST","angle":45,"dcs":1.48},{"series":"NIST","angle":50,"dcs":1.0},{"series":"NIST","angle":55,"dcs":0.794},{"series":"NIST","angle":58,"dcs":0.759},{"series":"NIST","angle":62,"dcs":0.776},{"series":"NIST","angle":70,"dcs":0.871},{"series":"NIST","angle":80,"dcs":0.955},{"series":"NIST","angle":88,"dcs":0.955},{"series":"NIST","angle":95,"dcs":0.832},{"series":"NIST","angle":100,"dcs":0.708},{"series":"NIST","angle":105,"dcs":0.525},{"series":"NIST","angle":110,"dcs":0.355},{"series":"NIST","angle":115,"dcs":0.209},{"series":"NIST","angle":118,"dcs":0.148},{"series":"NIST","angle":121,"dcs":0.0912},{"series":"NIST","angle":124,"dcs":0.0525},{"series":"NIST","angle":127,"dcs":0.0275},{"series":"NIST","angle":129.5,"dcs":0.0126},{"series":"NIST","angle":131.2,"dcs":0.00741},{"series":"NIST","angle":133,"dcs":0.00955},{"series":"NIST","angle":135,"dcs":0.0141},{"series":"NIST","angle":137.5,"dcs":0.0275},{"series":"NIST","angle":141,"dcs":0.0631},{"series":"NIST","angle":146,"dcs":0.117},{"series":"NIST","angle":154,"dcs":0.209},{"series":"NIST","angle":162,"dcs":0.288},{"series":"NIST","angle":170,"dcs":0.347},{"series":"NIST","angle":180,"dcs":0.38}
]
},
"vconcat": [
{
 "width": 469, "height": 350,
 "data": {"name": "solid"},
 "mark": {"type": "line", "clip": true, "strokeWidth": 1.9, "interpolate": "monotone"},
 "encoding": {
  "x": {"field": "angle", "type": "quantitative", "scale": {"domain": [0, 180], "nice": false}, "axis": {"values": [0,20,40,60,80,100,120,140,160,180], "title": "Angle (degree)", "titlePadding": 3}},
  "y": {"field": "dcs", "type": "quantitative", "scale": {"type": "log", "domain": [0.001, 1000], "nice": false},
   "axis": {"title": "Differential cross section (a.u.)", "titlePadding": 6,
    "values": [0.001,0.002,0.003,0.004,0.005,0.006,0.007,0.008,0.009,0.01,0.02,0.03,0.04,0.05,0.06,0.07,0.08,0.09,0.1,0.2,0.3,0.4,0.5,0.6,0.7,0.8,0.9,1,2,3,4,5,6,7,8,9,10,20,30,40,50,60,70,80,90,100,200,300,400,500,600,700,800,900,1000],
    "labelExpr": "datum.value == 0.001 ? '10\u207b\u00b3' : datum.value == 0.01 ? '10\u207b\u00b2' : datum.value == 0.1 ? '10\u207b\u00b9' : datum.value == 1 ? '10\u2070' : datum.value == 10 ? '10\u00b9' : datum.value == 100 ? '10\u00b2' : datum.value == 1000 ? '10\u00b3' : ''",
    "tickSize": {"condition": {"test": "datum.value == 0.001 || datum.value == 0.01 || datum.value == 0.1 || datum.value == 1 || datum.value == 10 || datum.value == 100 || datum.value == 1000", "value": 4.5}, "value": 2.5}}},
  "color": {"field": "series", "type": "nominal", "scale": {"domain": ["solid, hr, nr","solid, hr, so","solid, hc, nr","solid, hc, so","solid, fc, nr","solid, fc, so","NIST"], "range": ["#8fd744","#8fd744","#2a788e","#2a788e","#482878","#482878","#000000"]}, "legend": {"title": null}},
  "strokeDash": {"field": "series", "type": "nominal", "scale": {"domain": ["solid, hr, nr","solid, hr, so","solid, hc, nr","solid, hc, so","solid, fc, nr","solid, fc, so","NIST"], "range": [[1,0],[7.2,3.1],[1,0],[7.2,3.1],[1,0],[7.2,3.1],[2,3.2]]}, "legend": {"title": null}}
 }
},
{
 "width": 469, "height": 350,
 "data": {"name": "input"},
 "mark": {"type": "line", "clip": true, "strokeWidth": 1.9, "interpolate": "monotone"},
 "encoding": {
  "x": {"field": "angle", "type": "quantitative", "scale": {"domain": [0, 180], "nice": false}, "axis": {"values": [0,20,40,60,80,100,120,140,160,180], "title": "Angle (degree)", "titlePadding": 3}},
  "y": {"field": "dcs", "type": "quantitative", "scale": {"type": "log", "domain": [0.001, 1000], "nice": false},
   "axis": {"title": "Differential cross section (a.u.)", "titlePadding": 6,
    "values": [0.001,0.002,0.003,0.004,0.005,0.006,0.007,0.008,0.009,0.01,0.02,0.03,0.04,0.05,0.06,0.07,0.08,0.09,0.1,0.2,0.3,0.4,0.5,0.6,0.7,0.8,0.9,1,2,3,4,5,6,7,8,9,10,20,30,40,50,60,70,80,90,100,200,300,400,500,600,700,800,900,1000],
    "labelExpr": "datum.value == 0.001 ? '10\u207b\u00b3' : datum.value == 0.01 ? '10\u207b\u00b2' : datum.value == 0.1 ? '10\u207b\u00b9' : datum.value == 1 ? '10\u2070' : datum.value == 10 ? '10\u00b9' : datum.value == 100 ? '10\u00b2' : datum.value == 1000 ? '10\u00b3' : ''",
    "tickSize": {"condition": {"test": "datum.value == 0.001 || datum.value == 0.01 || datum.value == 0.1 || datum.value == 1 || datum.value == 10 || datum.value == 100 || datum.value == 1000", "value": 4.5}, "value": 2.5}}},
  "color": {"field": "series", "type": "nominal", "scale": {"domain": ["input, hr, nr","input, hr, so","input, hc, nr","input, hc, so","input, fc, nr","input, fc, so","NIST"], "range": ["#8fd744","#8fd744","#2a788e","#2a788e","#482878","#482878","#000000"]}, "legend": {"title": null}},
  "strokeDash": {"field": "series", "type": "nominal", "scale": {"domain": ["input, hr, nr","input, hr, so","input, hc, nr","input, hc, so","input, fc, nr","input, fc, so","NIST"], "range": [[1,0],[7.2,3.1],[1,0],[7.2,3.1],[1,0],[7.2,3.1],[2,3.2]]}, "legend": {"title": null}}
 }
},
{
 "width": 469, "height": 350,
 "data": {"name": "calc"},
 "mark": {"type": "line", "clip": true, "strokeWidth": 1.9, "interpolate": "monotone"},
 "encoding": {
  "x": {"field": "angle", "type": "quantitative", "scale": {"domain": [0, 180], "nice": false}, "axis": {"values": [0,20,40,60,80,100,120,140,160,180], "title": "Angle (degree)", "titlePadding": 3}},
  "y": {"field": "dcs", "type": "quantitative", "scale": {"type": "log", "domain": [0.001, 1000], "nice": false},
   "axis": {"title": "Differential cross section (a.u.)", "titlePadding": 6,
    "values": [0.001,0.002,0.003,0.004,0.005,0.006,0.007,0.008,0.009,0.01,0.02,0.03,0.04,0.05,0.06,0.07,0.08,0.09,0.1,0.2,0.3,0.4,0.5,0.6,0.7,0.8,0.9,1,2,3,4,5,6,7,8,9,10,20,30,40,50,60,70,80,90,100,200,300,400,500,600,700,800,900,1000],
    "labelExpr": "datum.value == 0.001 ? '10\u207b\u00b3' : datum.value == 0.01 ? '10\u207b\u00b2' : datum.value == 0.1 ? '10\u207b\u00b9' : datum.value == 1 ? '10\u2070' : datum.value == 10 ? '10\u00b9' : datum.value == 100 ? '10\u00b2' : datum.value == 1000 ? '10\u00b3' : ''",
    "tickSize": {"condition": {"test": "datum.value == 0.001 || datum.value == 0.01 || datum.value == 0.1 || datum.value == 1 || datum.value == 10 || datum.value == 100 || datum.value == 1000", "value": 4.5}, "value": 2.5}}},
  "color": {"field": "series", "type": "nominal", "scale": {"domain": ["calc, hr, nr","calc, hr, so","calc, hc, nr","calc, hc, so","calc, fc, nr","calc, fc, so","NIST"], "range": ["#8fd744","#8fd744","#2a788e","#2a788e","#482878","#482878","#000000"]}, "legend": {"title": null}},
  "strokeDash": {"field": "series", "type": "nominal", "scale": {"domain": ["calc, hr, nr","calc, hr, so","calc, hc, nr","calc, hc, so","calc, fc, nr","calc, fc, so","NIST"], "range": [[1,0],[7.2,3.1],[1,0],[7.2,3.1],[1,0],[7.2,3.1],[2,3.2]]}, "legend": {"title": null}}
 }
}
],
"resolve": {"scale": {"color": "independent", "strokeDash": "independent"}, "legend": {"color": "independent", "strokeDash": "independent"}}
}
